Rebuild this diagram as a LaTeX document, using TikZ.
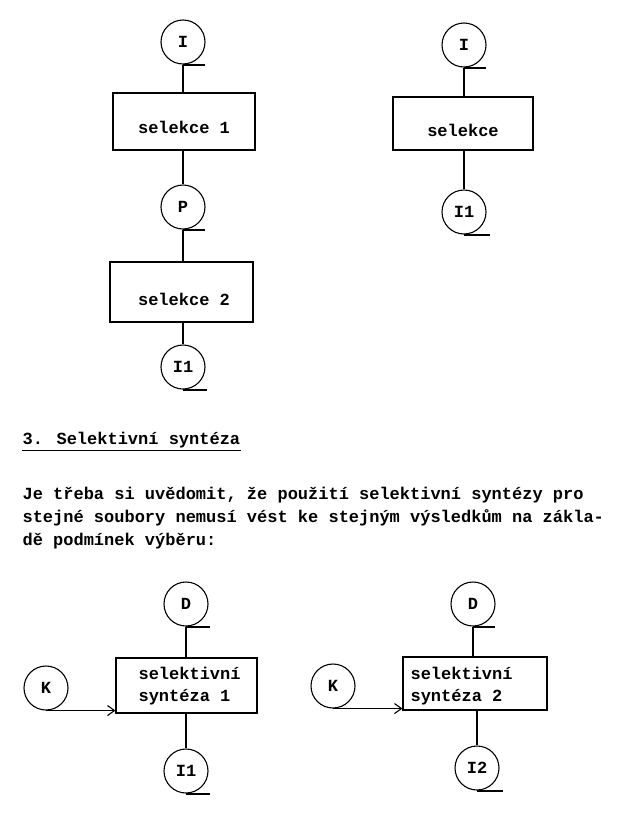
\documentclass[tikz,border=0pt]{standalone}
\usepackage{fontspec}
\newfontfamily\tw{Liberation Mono}
\usetikzlibrary{arrows.meta}
\begin{document}
\begin{tikzpicture}[x=1pt,y=-1pt,
  font=\tw\bfseries\fontsize{17}{22.5}\selectfont,
  line width=1.1pt,
  store/.style={circle, draw, minimum size=44pt, inner sep=0pt},
  proc/.style={draw, rectangle, inner sep=0pt},
  txt/.style={inner sep=0pt, anchor=west},
  tail/.style={line width=2pt},
  arr/.style={-{Straight Barb[length=7pt,width=10pt,line width=1.1pt]}}]
\useasboundingbox (0,0) rectangle (632,814);
\fill[white] (0,0) rectangle (632,814);

% top left
\node[store] (I1) at (183,42) {I};
\node[proc, minimum width=142pt, minimum height=57pt] (B1) at (184,121.5) {};
\node (T1) at (184,127) {selekce 1};
\node[store] (P) at (183,207) {P};
\node[proc, minimum width=143pt, minimum height=60pt] (B2) at (181.5,292) {};
\node (T2) at (184,299) {selekce 2};
\node[store] (O1) at (183,367) {I1};
\draw (I1.south) -- (I1.south |- B1.north);
\draw (P.north |- B1.south) -- (P.north);
\draw (P.south) -- (P.south |- B2.north);
\draw (O1.north |- B2.south) -- (O1.north);
\draw[tail] (I1.south) -- ++(22,0);
\draw[tail] (P.south) -- ++(22,0);
\draw[tail] (O1.south) -- ++(24,0);

% top right
\node[store] (I2) at (464,45) {I};
\node[proc, minimum width=140pt, minimum height=53pt] (B3) at (463,123.5) {};
\node (T3) at (463,130) {selekce};
\node[store] (O2) at (464,212) {I1};
\draw (I2.south) -- (I2.south |- B3.north);
\draw (O2.north |- B3.south) -- (O2.north);
\draw[tail] (I2.south) -- ++(22,0);
\draw[tail] (O2.south) -- ++(26,0);

% heading and paragraph
\node[txt] (H) at (22,440) {3. Selektivní syntéza};
\draw (H.south west) ++(0,2) -- ([yshift=-2pt]H.south east);
\node[txt] (L1) at (22,495) {Je třeba si uvědomit, že použití selektivní syntézy pro};
\node[txt] (L2) at (22,518) {stejné soubory nemusí vést ke stejným výsledkům na zákla-};
\node[txt] (L3) at (22,541) {dě podmínek výběru:};

% bottom left
\node[store] (D1) at (186,604) {D};
\node[proc, minimum width=141pt, minimum height=55pt] (B4) at (186.5,685.5) {};
\node[txt, align=left] (T4) at (138,686) {selektivní\\syntéza 1};
\node[store] (K1) at (46,688) {K};
\node[store] (O3) at (186,771) {I1};
\draw (D1.south) -- (D1.south |- B4.north);
\draw (O3.north |- B4.south) -- (O3.north);
\draw[tail] (D1.south) -- ++(24,0);
\draw[tail] (O3.south) -- ++(24,0);
\draw[arr] (K1.south) -- (K1.south -| B4.west);

% bottom right
\node[store] (D2) at (473,604) {D};
\node[proc, minimum width=144pt, minimum height=53pt] (B5) at (475,683.5) {};
\node[txt, align=left] (T5) at (410,686) {selektivní\\syntéza 2};
\node[store] (K2) at (333,686) {K};
\node[store] (O4) at (477,768) {I2};
\draw (D2.south) -- (D2.south |- B5.north);
\draw (O4.north |- B5.south) -- (O4.north);
\draw[tail] (D2.south) -- ++(22,0);
\draw[tail] (O4.south) -- ++(26,0);
\draw[arr] (K2.south) -- (K2.south -| B5.west);
\end{tikzpicture}
\end{document}
